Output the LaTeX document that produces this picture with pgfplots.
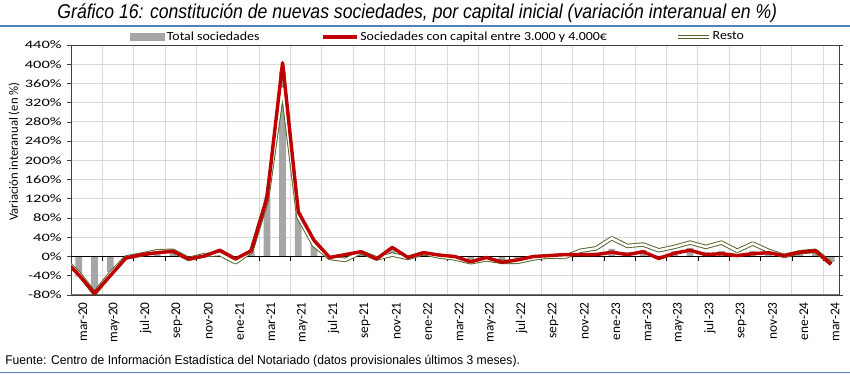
\documentclass[border=0pt]{standalone}
\usepackage{fontspec}
\setmainfont{Carlito}
\newfontfamily\ticky[FakeStretch=1.45]{Carlito}
\newfontfamily\legfont[FakeStretch=1.12]{Carlito}
\newfontfamily\titlefont[FakeStretch=0.88]{Liberation Sans}
\newfontfamily\srcfont[FakeStretch=0.96]{Liberation Sans}
\usepackage{pgfplots}
\usepackage{pgfplotstable}
\pgfplotsset{compat=1.18}
\definecolor{barGray}{HTML}{A6A6A6}
\definecolor{redS}{HTML}{C00000}
\definecolor{greenS}{HTML}{4F6228}
\definecolor{gridC}{HTML}{D9D9D9}
\definecolor{ruleBlue}{HTML}{4F81BD}

\pgfplotstableread{
x  tot  red  res
-1 nan  -5   -3
0  -42  -38  -35
1  -72  -77  -77
2  -32  -40  -36
3  -3   -3   -2
4  4    4    4
5  9    8    11
6  11   11   12
7  -4   -5   -5
8  2    1    3
9  10   13   5
10 -7   -5   -12
11 11   12   11
12 124  121  118
13 385  403  350
14 91   93   83
15 29   34   24
16 -2   -2   -3
17 1    4    -7
18 9    10   9
19 -5   -5   -4
20 13   19   4
21 -2   -2   -3
22 8    8    7
23 2    3    0
24 -1   0    -4
25 -11  -11  -12
26 -3   -2   -6
27 -11  -12  -11
28 -8   -7   -11
29 -1   0    -4
30 1    2    0
31 3    4    -1
32 7    4    12
33 8    4    17
34 16   9    38
35 9    4    22
36 14   10   25
37 2    -4   13
38 11   7    20
39 18   13   29
40 9    4    20
41 12   6    29
42 5    2    12
43 12   6    27
44 9    8    12
45 2    2    1
46 9    9    9
47 12   12  12
48 -11  -16  -15
}\mydata

\begin{document}
\begin{tikzpicture}
\path[use as bounding box] (0,0) rectangle (637.5pt,281.25pt);
\draw[ruleBlue, line width=1.5pt] (0,261.75pt) -- (637.5pt,261.75pt);
\draw[ruleBlue, line width=1.2pt] (0,2pt) -- (637.5pt,2pt);
\node[anchor=base, inner sep=0pt, font=\fontsize{15}{18}\titlefont\itshape] at (313pt,267pt) {Gráfico 16: constitución de nuevas sociedades, por capital inicial (variación interanual en \%)};
\node[anchor=base west, inner sep=0pt, font=\fontsize{9.5}{11}\srcfont] at (3.75pt,8pt) {Fuente: Centro de Información Estadística del Notariado (datos provisionales últimos 3 meses).};
\begin{axis}[
  at={(53.25pt,60pt)}, anchor=south west, scale only axis,
  width=576pt, height=187.5pt,
  xmin=-0.5, xmax=48.5, ymin=-80, ymax=440,
  ytick={-80,-40,...,440},
  yticklabels={-80\%,-40\%,0\%,40\%,80\%,120\%,160\%,200\%,240\%,280\%,320\%,360\%,400\%,440\%},
  xtick={0,2,...,48},
  xticklabels={mar-20,may-20,jul-20,sep-20,nov-20,ene-21,mar-21,may-21,jul-21,sep-21,nov-21,ene-22,mar-22,may-22,jul-22,sep-22,nov-22,ene-23,mar-23,may-23,jul-23,sep-23,nov-23,ene-24,mar-24},
  minor xtick={1.5,3.5,...,47.5},
  xminorgrids, ymajorgrids,
  major grid style={gridC, line width=0.75pt},
  minor grid style={gridC, line width=0.75pt},
  axis line style={draw=black!75, line width=0.6pt},
  tick align=outside,
  xtick style={draw=none}, minor x tick style={draw=none},
  ytick style={draw=black!75, line width=0.6pt},
  major tick length=3pt,
  yticklabel style={font=\fontsize{8.5}{10}\ticky, xshift=-0.5pt},
  xticklabel style={rotate=90, anchor=east, font=\fontsize{10}{10}\selectfont, yshift=-3pt, xshift=1pt},
  ylabel={Variación interanual (en \%)},
  ylabel style={at={(axis description cs:-0.0742,0.574)}, anchor=center, font=\fontsize{9.5}{11}\selectfont},
  legend style={at={(axis description cs:0.0768,1.032)}, anchor=west, draw=none, fill=none,
    inner sep=0pt, font=\fontsize{9.3}{11}\legfont, nodes={inner sep=1.5pt}},
  legend columns=3,
]
\addplot[ybar, bar width=0.43, fill=barGray, draw=none, area legend,
  legend image code/.code={\fill[barGray] (0pt,-3pt) rectangle (26pt,3pt);}]
  table[x=x, y=tot] {\mydata};
\addlegendentry{Total sociedades\rule{45pt}{0pt}}
\draw[black, line width=0.75pt] (axis cs:-0.5,0) -- (axis cs:48.5,0);
\foreach \k in {1.5,3.5,...,47.5}{\edef\tmp{\noexpand\draw[black, line width=0.6pt] (axis cs:\k,0) -- ++(0pt,-3.5pt);}\tmp}
\draw[black!55, line width=1.5pt] (rel axis cs:0,0) -- (rel axis cs:1,0);
\addplot[forget plot, greenS, line width=0.7pt, double=white, double distance=1.9pt, line join=round]
  table[x=x, y=res] {\mydata};
\addplot[redS, line width=2.6pt, line join=round,
  legend image code/.code={\draw[redS, line width=2.6pt] (0pt,0pt) -- (25pt,0pt);}]
  table[x=x, y=red] {\mydata};
\addlegendentry{Sociedades con capital entre 3.000 y 4.000€\rule{50pt}{0pt}}
\addlegendimage{greenS, line width=0.7pt, double=white, double distance=1.9pt,
  legend image code/.code={\draw[greenS, line width=0.7pt, double=white, double distance=1.9pt] (0pt,0pt) -- (23pt,0pt);}}
\addlegendentry{Resto}
\end{axis}
\end{tikzpicture}
\end{document}
